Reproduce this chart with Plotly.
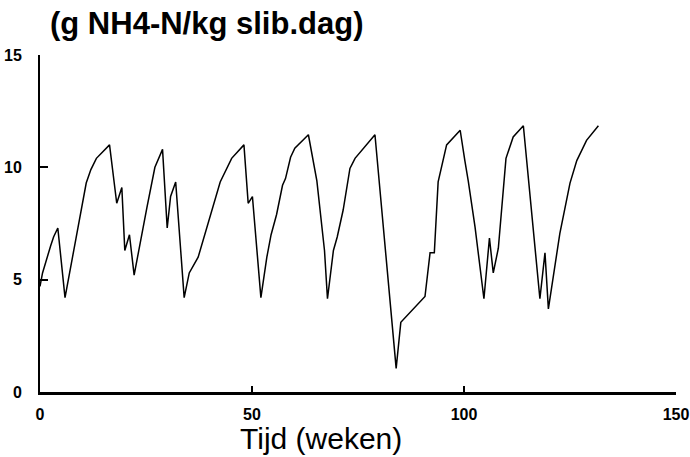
import plotly.graph_objects as go

weeks = [0, 0.6, 2.5, 3.2, 4.2, 5.9, 8.5, 10.9, 12.0, 13.3, 16.4, 18.1, 19.3, 20.0, 21.1, 22.2,
         25.2, 27.1, 28.9, 30.0, 30.8, 32.0, 34.0, 35.2, 37.3, 39.7, 42.5, 45.2, 48.1, 49.1,
         50.1, 52.1, 53.5, 54.5, 55.8, 57.2, 57.9, 59.1, 60.1, 63.3, 65.3, 67.1, 67.8, 69.2,
         70.1, 71.5, 73.1, 74.3, 79.0, 84.0, 85.1, 90.8, 92.0, 93.0, 93.9, 95.9, 99.1, 100.2,
         101.0, 102.6, 104.7, 106.0, 106.9, 108.1, 109.9, 111.6, 112.8, 114.0, 117.9, 119.1,
         119.9, 122.6, 125.0, 126.6, 128.9, 131.7]
nh4 = [4.7, 5.3, 6.5, 6.9, 7.3, 4.2, 6.85, 9.3, 9.9, 10.4, 11.0, 8.4, 9.1, 6.3, 7.0, 5.2,
       8.2, 10.0, 10.8, 7.3, 8.7, 9.35, 4.2, 5.3, 6.0, 7.6, 9.35, 10.4, 11.0, 8.4,
       8.7, 4.2, 6.0, 7.0, 7.9, 9.2, 9.5, 10.45, 10.85, 11.45, 9.4, 6.3, 4.15, 6.3,
       6.9, 8.1, 9.95, 10.4, 11.45, 1.05, 3.1, 4.25, 6.2, 6.2, 9.35, 11.0, 11.65, 10.3,
       9.4, 7.35, 4.15, 6.85, 5.3, 6.4, 10.4, 11.35, 11.6, 11.85, 4.15, 6.2,
       3.7, 7.05, 9.3, 10.3, 11.2, 11.85]

x_ticks = [0, 50, 100, 150]
y_ticks = [0, 5, 10, 15]

fig = go.Figure()
fig.add_trace(go.Scatter(x=weeks, y=nh4, mode="lines",
                         line=dict(color="black", width=1.5), showlegend=False))

FAM = "Liberation Sans, Arial, sans-serif"
tickfont = dict(family=FAM, size=16, color="black", weight="bold")

fig.update_layout(
    width=690, height=457,
    margin=dict(l=40, r=14, t=55, b=65),
    paper_bgcolor="white", plot_bgcolor="white",
    xaxis=dict(range=[0, 150], tickvals=x_ticks, ticks="inside", ticklen=6, tickwidth=1.5,
               tickcolor="black", showline=True, linecolor="black", linewidth=3,
               showgrid=False, zeroline=False, tickfont=tickfont, ticklabelstandoff=6,
               automargin=False),
    yaxis=dict(range=[0, 15], tickvals=y_ticks, ticks="inside", ticklen=8, tickwidth=1.5,
               tickcolor="black", showline=True, linecolor="black", linewidth=2,
               showgrid=False, zeroline=False, tickfont=tickfont, ticklabelstandoff=13,
               automargin=False),
    font=dict(family=FAM, color="black"),
    annotations=[
        dict(text="(g NH4-N/kg slib.dag)", xref="paper", yref="paper", x=0.0, y=1.0,
             xshift=8, yshift=32, xanchor="left", yanchor="middle", showarrow=False,
             font=dict(size=31, weight="bold", color="black", family=FAM)),
        dict(text="Tijd (weken)", xref="paper", yref="paper", x=0.442, y=0.0,
             yshift=-46, xanchor="center", yanchor="middle", showarrow=False,
             font=dict(size=30, color="black", family=FAM)),
    ],
)

fig.write_html("out.html")
